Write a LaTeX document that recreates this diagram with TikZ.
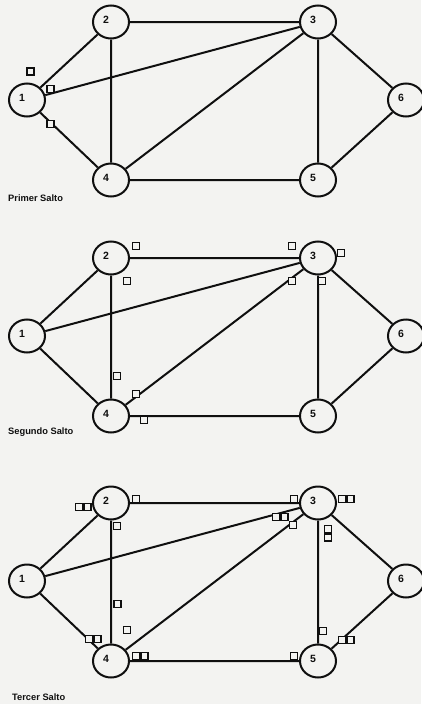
\documentclass[tikz,border=0pt]{standalone}
\usepackage{fontspec}
\setmainfont{Liberation Sans}
\usetikzlibrary{shapes.geometric}
\definecolor{paper}{RGB}{243,243,241}
\definecolor{ink}{RGB}{15,15,15}
\begin{document}
\begin{tikzpicture}[x=1pt,y=-1pt,
  numtxt/.style={font=\bfseries\fontsize{10.5}{10.5}\selectfont, text=ink, xshift=-5pt, yshift=2.5pt, inner sep=0pt},
  vtx/.style={ellipse, draw=ink, line width=2pt, minimum width=36pt, minimum height=33pt,
              inner sep=0pt, fill=paper, label={[numtxt]center:#1}},
  lnk/.style={draw=ink, line width=2pt},
  pkt/.style={rectangle, draw=ink, line width=1.5pt, minimum size=7.2pt, inner sep=0pt, fill=paper},
  hoptitle/.style={anchor=west, inner sep=0pt, text=ink, font=\bfseries\fontsize{9.3}{9.3}\selectfont}]

\fill[paper] (0,0) rectangle (421,704);
\useasboundingbox (0,0) rectangle (421,704);

% the same six-node network, drawn once per hop
\foreach \p/\yo in {a/22, b/258, c/503} {
  \begin{scope}[shift={(0,\yo)}]
    \node[vtx=1] (\p1) at (27,78) {};
    \node[vtx=2] (\p2) at (111,0) {};
    \node[vtx=3] (\p3) at (318,0) {};
    \node[vtx=4] (\p4) at (111,158) {};
    \node[vtx=5] (\p5) at (318,158) {};
    \node[vtx=6] (\p6) at (406,78) {};
    \path[lnk] (\p1) -- (\p2)  (\p1) -- (\p3)  (\p1) -- (\p4)
               (\p2) -- (\p3)  (\p2) -- (\p4)  (\p4) -- (\p3)
               (\p3) -- (\p5)  (\p3) -- (\p6)  (\p4) -- (\p5)
               (\p5) -- (\p6);
  \end{scope}
}

% packets after the first hop
\node[pkt] (qa1) at (30.5,71.5) {};
\node[pkt] (qa2) at (50.5,89) {};
\node[pkt] (qa3) at (50.5,124) {};
\node[hoptitle] (ta) at (8,198) {Primer Salto};

% packets after the second hop
\node[pkt] (qb1) at (136,246) {};
\node[pkt] (qb2) at (127,281) {};
\node[pkt] (qb3) at (117,376) {};
\node[pkt] (qb4) at (136,394) {};
\node[pkt] (qb5) at (144,420) {};
\node[pkt] (qb6) at (292,246) {};
\node[pkt] (qb7) at (341,253) {};
\node[pkt] (qb8) at (292,281) {};
\node[pkt] (qb9) at (322,281) {};
\node[hoptitle] (tb) at (8,432) {Segundo Salto};

% packets after the third hop
\node[pkt] (qc1) at (79,507) {};
\node[pkt] (qc2) at (87.5,507) {};
\node[pkt] (qc3) at (136,499) {};
\node[pkt] (qc4) at (117,526) {};
\node[pkt] (qc5) at (117.5,604) {};
\node[pkt] (qc6) at (127,630) {};
\node[pkt] (qc7) at (89,639) {};
\node[pkt] (qc8) at (97.5,639) {};
\node[pkt] (qc9) at (136,656) {};
\node[pkt] (qc10) at (144.5,656) {};
\node[pkt] (qc11) at (294,499) {};
\node[pkt] (qc12) at (276,517) {};
\node[pkt] (qc13) at (284.5,517) {};
\node[pkt] (qc14) at (293,525) {};
\node[pkt] (qc15) at (342,499) {};
\node[pkt] (qc16) at (350.5,499) {};
\node[pkt] (qc17) at (328,529) {};
\node[pkt] (qc18) at (328,537.5) {};
\node[pkt] (qc19) at (323,631) {};
\node[pkt] (qc20) at (342,640) {};
\node[pkt] (qc21) at (350.5,640) {};
\node[pkt] (qc22) at (294,656) {};
\node[hoptitle] (tc) at (12,697) {Tercer Salto};
\end{tikzpicture}
\end{document}
